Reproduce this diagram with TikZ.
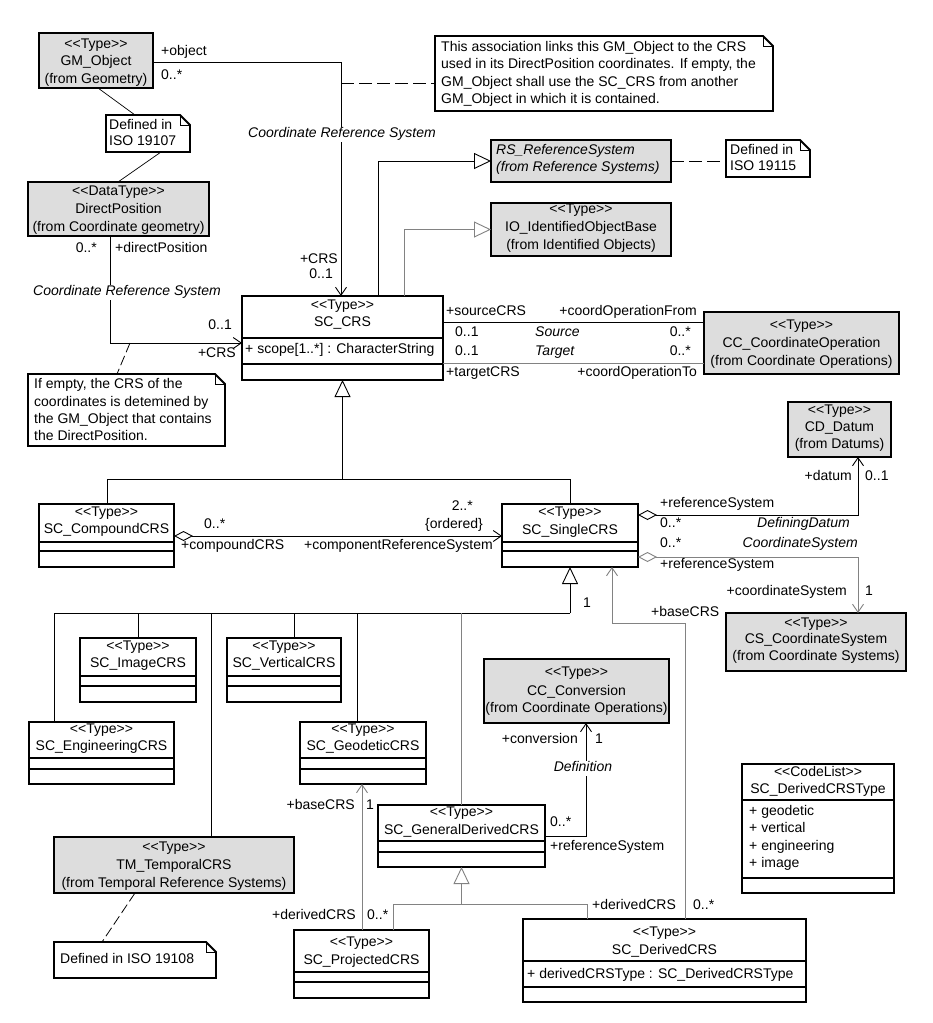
\documentclass[tikz,border=0pt]{standalone}
\usepackage{fontspec}
\newfontfamily\umlf{Liberation Sans}
\usetikzlibrary{arrows.meta}
\definecolor{boxgray}{RGB}{221,221,221}
\definecolor{linegray}{RGB}{130,130,130}
\newcounter{tn}
\newcommand{\Ut}[4][]{\stepcounter{tn}\node[tx,#1] (t\arabic{tn}) at (#2,#3) {#4};}
\newcommand{\Ubox}[6]{\node[#6, minimum width=#4pt, minimum height=#5pt] (#1) at (#2,#3) {};}
\newcommand{\Usep}[2]{\draw[sepline] (#1.west |- 0,#2) -- (#1.east |- 0,#2);}
\newcommand{\Unote}[5]{%
  \node[notebg, minimum width=#4pt, minimum height=#5pt] (#1) at (#2,#3) {};
  \draw[line width=1.8pt, fill=white, line join=miter] (#1.north west) -- ([xshift=-10pt]#1.north east) -- ([yshift=-10pt]#1.north east) -- (#1.south east) -- (#1.south west) -- cycle;
  \draw[line width=0.8pt] ([xshift=-10pt]#1.north east) -- ([xshift=-10pt,yshift=-10pt]#1.north east) -- ([yshift=-10pt]#1.north east);}
\tikzset{
  cls/.style={draw, line width=1.8pt, anchor=north west, inner sep=0pt, outer sep=0pt, fill=white},
  gcls/.style={cls, fill=boxgray},
  notebg/.style={anchor=north west, inner sep=0pt, outer sep=0pt},
  sepline/.style={line width=1.8pt},
  conn/.style={line width=0.9pt},
  assoc/.style={conn, -{Straight Barb[length=8pt,width=11pt]}},
  gen/.style={conn, -{Triangle[open,length=17pt,width=16pt]}},
  agg/.style={conn, {Diamond[open,length=19pt,width=10pt]}-{Straight Barb[length=8pt,width=11pt]}},
  notelink/.style={line width=0.8pt, dash pattern=on 13pt off 5pt},
  thinlink/.style={line width=0.7pt},
  tx/.style={inner sep=0pt, text height=10pt, text depth=3pt},
  lw/.style={tx, anchor=west},
  le/.style={tx, anchor=east},
  it/.style={font=\umlf\fontsize{14}{17}\selectfont\itshape},
}
\begin{document}
\begin{tikzpicture}[x=1pt,y=-1pt, font=\umlf\fontsize{14}{17}\selectfont]
\useasboundingbox[fill=white] (0,0) rectangle (932,1023);

% ---------- class boxes ----------
\Ubox{gmobj}{39}{33}{114}{55}{gcls}
\Ubox{dirpos}{28}{182}{181}{54}{gcls}
\Ubox{rsref}{491}{140}{180}{42}{gcls}
\Ubox{ioid}{491}{203}{180}{53}{gcls}
\Ubox{sccrs}{242}{296}{201}{84}{cls}
\Usep{sccrs}{338}\Usep{sccrs}{364}
\Ubox{ccop}{704}{312}{195}{62}{gcls}
\Ubox{cddatum}{788}{402}{103}{55}{gcls}
\Ubox{compound}{39}{504}{135}{63}{cls}
\Usep{compound}{542}\Usep{compound}{551}
\Ubox{single}{502}{504}{136}{63}{cls}
\Usep{single}{542}\Usep{single}{551}
\Ubox{cscs}{726}{613}{180}{58}{gcls}
\Ubox{image}{80}{638}{116}{64}{cls}
\Usep{image}{676}\Usep{image}{686}
\Ubox{vertical}{227}{638}{114}{64}{cls}
\Usep{vertical}{676}\Usep{vertical}{686}
\Ubox{engineering}{29}{722}{145}{62}{cls}
\Usep{engineering}{758}\Usep{engineering}{769}
\Ubox{geodetic}{300}{722}{126}{62}{cls}
\Usep{geodetic}{758}\Usep{geodetic}{769}
\Ubox{ccconv}{484}{659}{185}{64}{gcls}
\Ubox{gender}{378}{805}{167}{62}{cls}
\Usep{gender}{841}\Usep{gender}{852}
\Ubox{temporal}{54}{837}{240}{56}{gcls}
\Ubox{projected}{294}{930}{135}{68}{cls}
\Usep{projected}{972}\Usep{projected}{982}
\Ubox{derived}{523}{919}{283}{83}{cls}
\Usep{derived}{961}\Usep{derived}{987}
\Ubox{dctype}{742}{764}{152}{129}{cls}
\Usep{dctype}{800}\Usep{dctype}{878}

% ---------- notes ----------
\Unote{note1}{106}{115}{84}{37}
\Unote{bignote}{435}{36}{338}{75}
\Unote{note2}{726}{140}{84}{37}
\Unote{noteempty}{28}{374}{197}{72}
\Unote{note3}{54}{942}{162}{36}

% ---------- connectors ----------
\draw[assoc] (gmobj.east |- 0,62) -| (sccrs.north -| 341,0);
\coordinate (objpt) at (341,83);
\draw[notelink] (objpt) -- (bignote.west |- objpt);
\draw[assoc] (dirpos.south -| 110,0) |- (sccrs.west |- 0,343);
\coordinate (dppt) at (130,343);
\draw[notelink, dash pattern=on 10pt off 4pt] (dppt) -- (noteempty.north -| 117,0);
\draw[thinlink] (gmobj.south -| 98,0) -- (note1.north -| 135,0);
\draw[thinlink] (note1.south -| 161,0) -- (dirpos.north -| 118,0);
\draw[gen] (sccrs.north -| 378,0) |- (rsref.west);
\draw[gen, draw=linegray] (sccrs.north -| 404,0) |- (ioid.west);
\draw[notelink] (rsref.east) -- (note2.west |- rsref.east);
\draw[conn] (sccrs.east |- 0,322) -- (ccop.west |- 0,322);
\draw[conn, draw=linegray] (sccrs.east |- 0,363) -- (ccop.west |- 0,363);
\coordinate (j1) at (342.5,479);
\draw[gen] (j1) -- (sccrs.south);
\draw[conn] (compound.north -| 107,0) |- (j1);
\draw[conn] (single.north) |- (j1);
\draw[agg] (compound.east |- 0,536) -- (single.west |- 0,536);
\draw[agg] (single.east |- 0,515) -| (cddatum.south -| 858,0);
\draw[agg, draw=linegray] (single.east |- 0,557) -| (cscs.north -| 858,0);
\coordinate (j2) at (570,613);
\draw[gen] (j2) -- (single.south);
\draw[conn] (engineering.north -| 54,0) |- (j2);
\draw[conn] (image.north) -- (image.north |- j2);
\draw[conn] (temporal.north -| 211,0) -- (j2 -| 211,0);
\draw[conn] (vertical.north -| 294,0) -- (j2 -| 294,0);
\draw[conn] (geodetic.north -| 357,0) -- (j2 -| 357,0);
\draw[conn, draw=linegray] (gender.north) -- (gender.north |- j2);
\draw[assoc, draw=linegray] (derived.north -| 685,0) |- (612,623) -- (single.south -| 612,0);
\draw[assoc, draw=linegray] (projected.north -| 362,0) -- (geodetic.south -| 362,0);
\coordinate (j3) at (461.5,904);
\draw[gen, draw=linegray] (j3) -- (gender.south);
\draw[conn, draw=linegray] (projected.north -| 393,0) |- (j3);
\draw[conn, draw=linegray] (derived.north -| 587,0) |- (j3);
\draw[assoc] (gender.east |- 0,836) -| (ccconv.south -| 586,0);
\draw[notelink, dash pattern=on 10pt off 4pt] (temporal.south -| 135,0) -- (note3.north -| 102,0);

% ---------- texts ----------
% GM_Object
\Ut{96}{45}{<<Type>>}\Ut{96}{62}{GM\_Object}\Ut{96}{80}{(from Geometry)}
\Ut[lw]{109}{126}{Defined in}\Ut[lw]{109}{142}{ISO 19107}
\Ut{118.5}{192}{<<DataType>>}\Ut{118.5}{210}{DirectPosition}\Ut{118.5}{228}{(from Coordinate geometry)}
\Ut[lw]{161}{52}{+object}\Ut[lw]{161}{76}{0..*}
\Ut[it,fill=white,inner xsep=2pt,inner ysep=1pt]{342}{134}{Coordinate Reference System}
\Ut[lw]{441}{48}{This association links this GM\_Object to the CRS}
\Ut[lw]{441}{65}{used in its DirectPosition coordinates. If empty, the}
\Ut[lw]{441}{83}{GM\_Object shall use the SC\_CRS from another}
\Ut[lw]{441}{100}{GM\_Object in which it is contained.}
\Ut[lw,it]{496}{151}{RS\_ReferenceSystem}\Ut[lw,it]{496}{168}{(from Reference Systems)}
\Ut[lw]{730}{151}{Defined in}\Ut[lw]{730}{167}{ISO 19115}
\Ut{581}{210}{<<Type>>}\Ut{581}{228}{IO\_IdentifiedObjectBase}\Ut{581}{246}{(from Identified Objects)}
\Ut[le]{338}{260}{+CRS}\Ut[le]{333}{275}{0..1}
\Ut[le]{97}{249}{0..*}\Ut[lw]{115}{249}{+directPosition}
\Ut[it,fill=white,inner xsep=2pt,inner ysep=1pt]{127}{292}{Coordinate Reference System}
\Ut[le]{232}{326}{0..1}\Ut[le]{236}{354}{+CRS}
% SC_CRS
\Ut{342.5}{306}{<<Type>>}\Ut{342.5}{323}{SC\_CRS}
\Ut[lw]{245}{350}{+ scope[1..*] : CharacterString}
\Ut[lw]{34}{385}{If empty, the CRS of the}
\Ut[lw]{34}{403}{coordinates is detemined by}
\Ut[lw]{34}{420}{the GM\_Object that contains}
\Ut[lw]{34}{437}{the DirectPosition.}
% source/target
\Ut[lw]{446}{312}{+sourceCRS}\Ut[le]{697}{312}{+coordOperationFrom}
\Ut[lw]{455}{333}{0..1}\Ut[lw,it]{535}{333}{Source}\Ut[le]{691}{333}{0..*}
\Ut[lw]{455}{352}{0..1}\Ut[lw,it]{535}{352}{Target}\Ut[le]{691}{352}{0..*}
\Ut[lw]{446}{373}{+targetCRS}\Ut[le]{697}{373}{+coordOperationTo}
\Ut{801.5}{326}{<<Type>>}\Ut{801.5}{344}{CC\_CoordinateOperation}\Ut{801.5}{362}{(from Coordinate Operations)}
\Ut{839.5}{411}{<<Type>>}\Ut{839.5}{428}{CD\_Datum}\Ut{839.5}{445}{(from Datums)}
\Ut[le]{852}{477}{+datum}\Ut[lw]{865}{477}{0..1}
% compound / single
\Ut{106.5}{513}{<<Type>>}\Ut{106.5}{530}{SC\_CompoundCRS}
\Ut[lw]{204}{525}{0..*}\Ut[lw]{181}{546}{+compoundCRS}
\Ut[le]{493}{546}{+componentReferenceSystem}
\Ut[le]{473}{507}{2..*}\Ut[le]{483}{525}{\{ordered\}}
\Ut{570}{513}{<<Type>>}\Ut{570}{531}{SC\_SingleCRS}
\Ut[lw]{660}{504}{+referenceSystem}\Ut[lw]{660}{524}{0..*}\Ut[le,it]{850}{524}{DefiningDatum}
\Ut[lw]{660}{544}{0..*}\Ut[le,it]{858}{544}{CoordinateSystem}\Ut[lw]{660}{565}{+referenceSystem}
\Ut[le]{847}{592}{+coordinateSystem}\Ut[lw]{865}{592}{1}
\Ut{816}{624}{<<Type>>}\Ut{816}{640}{CS\_CoordinateSystem}\Ut{816}{657}{(from Coordinate Systems)}
\Ut[lw]{583}{604}{1}\Ut[lw]{651}{613}{+baseCRS}
% subclasses
\Ut{138}{647}{<<Type>>}\Ut{138}{664}{SC\_ImageCRS}
\Ut{284}{647}{<<Type>>}\Ut{284}{664}{SC\_VerticalCRS}
\Ut{101.5}{730}{<<Type>>}\Ut{101.5}{747}{SC\_EngineeringCRS}
\Ut{363}{730}{<<Type>>}\Ut{363}{747}{SC\_GeodeticCRS}
\Ut{576.5}{673}{<<Type>>}\Ut{576.5}{692}{CC\_Conversion}\Ut{576.5}{709}{(from Coordinate Operations)}
\Ut[le]{578}{740}{+conversion}\Ut[lw]{595}{740}{1}
\Ut[it,fill=white,inner xsep=2pt,inner ysep=1pt]{583}{768}{Definition}
\Ut[le]{355}{806}{+baseCRS}\Ut[lw]{366}{806}{1}
\Ut{461.5}{813}{<<Type>>}\Ut{461.5}{831}{SC\_GeneralDerivedCRS}
\Ut[lw]{550}{823}{0..*}\Ut[lw]{550}{847}{+referenceSystem}
\Ut{174}{848}{<<Type>>}\Ut{174}{866}{TM\_TemporalCRS}\Ut{174}{884}{(from Temporal Reference Systems)}
\Ut[lw]{60}{960}{Defined in ISO 19108}
\Ut[le]{356}{916}{+derivedCRS}\Ut[lw]{367}{916}{0..*}
\Ut{361.5}{943}{<<Type>>}\Ut{361.5}{961}{SC\_ProjectedCRS}
\Ut[lw]{592}{906}{+derivedCRS}\Ut[lw]{693}{906}{0..*}
\Ut{664.5}{933}{<<Type>>}\Ut{664.5}{951}{SC\_DerivedCRS}
\Ut[lw]{527}{975}{+ derivedCRSType : SC\_DerivedCRSType}
\Ut{818}{773}{<<CodeList>>}\Ut{818}{790}{SC\_DerivedCRSType}
\Ut[lw]{749}{812}{+ geodetic}\Ut[lw]{749}{829}{+ vertical}
\Ut[lw]{749}{847}{+ engineering}\Ut[lw]{749}{864}{+ image}
\end{tikzpicture}
\end{document}
